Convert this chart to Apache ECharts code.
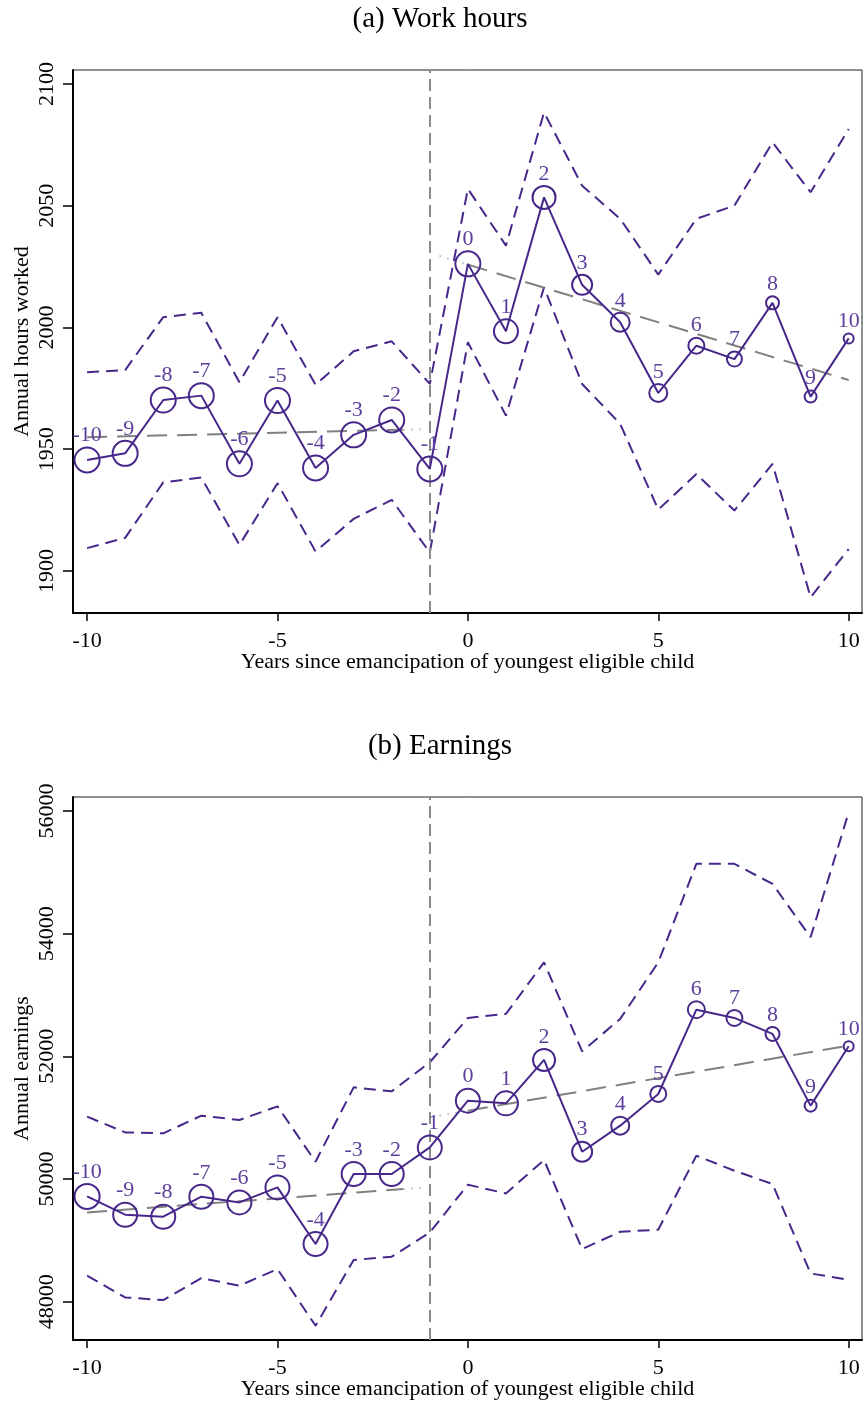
<!DOCTYPE html>
<html><head><meta charset="utf-8">
<script src="https://cdn.jsdelivr.net/npm/echarts@6/dist/echarts.min.js"></script>
<style>html,body{margin:0;padding:0;background:#fff}#c{width:863px;height:1404px}</style>
</head><body><div id="c"></div><script>
// ---------- data ----------
const years = [-10,-9,-8,-7,-6,-5,-4,-3,-2,-1,0,1,2,3,4,5,6,7,8,9,10];

const hoursEst   = [1945.6,1948.3,1970.2,1972.0,1944.0,1970.0,1942.3,1955.9,1962.0,1941.9,2026.1,1998.4,2053.4,2017.5,2002.1,1973.1,1992.5,1987.0,2010.1,1971.6,1995.5];
const hoursUpper = [1981.6,1982.5,2004.2,2006.0,1977.5,2004.2,1976.5,1990.2,1994.3,1976.8,2056.9,2033.6,2088.3,2058.2,2044.6,2021.7,2044.6,2050.0,2076.0,2055.5,2081.5];
const hoursLower = [1909.4,1913.6,1936.4,1938.4,1910.7,1936.0,1908.0,1921.4,1929.2,1907.6,1993.9,1963.8,2016.5,1976.8,1960.4,1925.2,1939.8,1924.8,1944.0,1889.2,1909.0];
const hoursPreFit     = [[-10,1954.9],[-1.7,1958.0]];
const hoursPreFitTail = [[-1.7,1958.0],[-1.2,1958.2]];
const hoursPostFit    = [[0,2025.8],[10,1978.4]];
const hoursPostFitTail= [[-0.75,2029.4],[0,2025.8]];

const earnEst   = [49716,49418,49385,49711,49618,49863,48940,50082,50082,50515,51277,51233,51941,50445,50869,51386,52761,52626,52365,51196,52163];
const earnUpper = [51016,50760,50744,51032,50962,51184,50282,51494,51429,51902,52626,52691,53533,52081,52610,53533,55138,55138,54811,53941,55979];
const earnLower = [48423,48069,48026,48385,48260,48532,47607,48679,48733,49129,49907,49765,50310,48858,49140,49173,50380,50135,49918,48460,48358];
const earnPreFit     = [[-10,49455],[-1.7,49835]];
const earnPreFitTail = [[-1.7,49835],[-1.2,49858]];
const earnPostFit    = [[0,51114],[10,52174]];
const earnPostFitTail= [[-0.75,51034],[0,51114]];

const xTicks     = [-10,-5,0,5,10];
const hoursTicks = [1900,1950,2000,2050,2100];
const earnTicks  = [48000,50000,52000,54000,56000];
const eventYear  = -1;

const titles = ['(a) Work hours','(b) Earnings'];
const xName = 'Years since emancipation of youngest eligible child';
const yNames = ['Annual hours worked','Annual earnings'];

// ---------- style ----------
const hoursSizes = [25,25,25,25,25,25,25,25,25,25,25,24,23,20,19,18,16,15,13,12,10];
const earnSizes  = [25,24,24,24,24,24,24,24,24,24,24,24,22,20,18,16,17,16,14,12,10];
const PURPLE = '#47288a';
const LABEL_PURPLE = '#5c3f9c';
const GRAY = '#808080';
const FONT = 'Liberation Serif';
const FS = 22;

const panels = [
  {est:hoursEst, up:hoursUpper, lo:hoursLower, pre:hoursPreFit, preT:hoursPreFitTail, post:hoursPostFit, postT:hoursPostFitTail, sizes:hoursSizes, ticks:hoursTicks, ymin:1882.75, ymax:2105.7, top:70},
  {est:earnEst, up:earnUpper, lo:earnLower, pre:earnPreFit, preT:earnPreFitTail, post:earnPostFit, postT:earnPostFitTail, sizes:earnSizes, ticks:earnTicks, ymin:47375, ymax:56228, top:797}
];

const grid = [], xAxis = [], yAxis = [], series = [];
panels.forEach((p, i) => {
  grid.push({left:73, right:1, top:p.top, height:543, containLabel:false, outerBoundsMode:'none',
    show:true, borderColor:'#222', borderWidth:1, backgroundColor:'transparent'});
  xAxis.push({
    gridIndex:i, type:'value', min:-10.37, max:10.35,
    axisLine:{show:true, onZero:false, lineStyle:{color:'#000', width:2}},
    axisTick:{show:true, length:8, customValues:xTicks, lineStyle:{color:'#000', width:1.5}},
    axisLabel:{customValues:xTicks, margin:17, fontFamily:FONT, fontSize:FS, color:'#000', formatter:v=>String(v)},
    splitLine:{show:false},
    name:xName, nameLocation:'middle', nameGap:38, nameMoveOverlap:false,
    nameTextStyle:{fontFamily:FONT, fontSize:FS, color:'#000'}
  });
  yAxis.push({
    gridIndex:i, type:'value', min:p.ymin, max:p.ymax,
    axisLine:{show:true, onZero:false, lineStyle:{color:'#000', width:2}},
    axisTick:{show:true, length:10, customValues:p.ticks, lineStyle:{color:'#000', width:1.5}},
    axisLabel:{customValues:p.ticks, rotate:90, margin:15, fontFamily:FONT, fontSize:FS, color:'#000', formatter:v=>String(v)},
    splitLine:{show:false},
    name:yNames[i], nameLocation:'middle', nameGap:40, nameMoveOverlap:false,
    nameTextStyle:{fontFamily:FONT, fontSize:FS, color:'#000'}
  });
  const pair = arr => years.map((x, k) => [x, arr[k]]);
  series.push({
    type:'line', xAxisIndex:i, yAxisIndex:i, data:pair(p.up), symbol:'none', silent:true,
    lineStyle:{color:PURPLE, width:2, type:[12,7]},
    markLine:{symbol:'none', silent:true, label:{show:false},
      lineStyle:{color:'#8a8a8a', width:2, type:[12,6]}, data:[{xAxis:eventYear}]}
  });
  series.push({type:'line', xAxisIndex:i, yAxisIndex:i, data:pair(p.lo), symbol:'none', silent:true,
    lineStyle:{color:PURPLE, width:2, type:[12,7]}});
  series.push({type:'line', xAxisIndex:i, yAxisIndex:i, data:p.pre, symbol:'none', silent:true,
    lineStyle:{color:GRAY, width:2, type:[20,10]}});
  series.push({type:'line', xAxisIndex:i, yAxisIndex:i, data:p.preT, symbol:'none', silent:true,
    lineStyle:{color:'#c8c8c8', width:2, type:[2,6]}});
  series.push({type:'line', xAxisIndex:i, yAxisIndex:i, data:p.post, symbol:'none', silent:true,
    lineStyle:{color:GRAY, width:2, type:[20,10]}});
  series.push({type:'line', xAxisIndex:i, yAxisIndex:i, data:p.postT, symbol:'none', silent:true,
    lineStyle:{color:'#c8c8c8', width:2, type:[2,6]}});
  series.push({
    type:'line', xAxisIndex:i, yAxisIndex:i, data:pair(p.est), silent:true,
    symbol:'circle', symbolSize:(v, prm) => p.sizes[prm.dataIndex],
    itemStyle:{color:'rgba(0,0,0,0)', borderColor:PURPLE, borderWidth:2},
    lineStyle:{color:PURPLE, width:2},
    label:{show:true, position:'top', distance:0, fontFamily:FONT, fontSize:FS, color:LABEL_PURPLE,
      formatter: prm => String(prm.value[0])},
    z:5
  });
});

const chart = echarts.init(document.getElementById('c'), null, {renderer:'canvas'});
chart.setOption({
  animation:false,
  backgroundColor:'#fff',
  graphic:[
    {type:'text', x:440, y:19, style:{text:titles[0], font:'29px "Liberation Serif"', fill:'#000', align:'center', verticalAlign:'middle'}},
    {type:'text', x:440, y:746, style:{text:titles[1], font:'29px "Liberation Serif"', fill:'#000', align:'center', verticalAlign:'middle'}}
  ],
  grid, xAxis, yAxis, series
});
</script></body></html>
